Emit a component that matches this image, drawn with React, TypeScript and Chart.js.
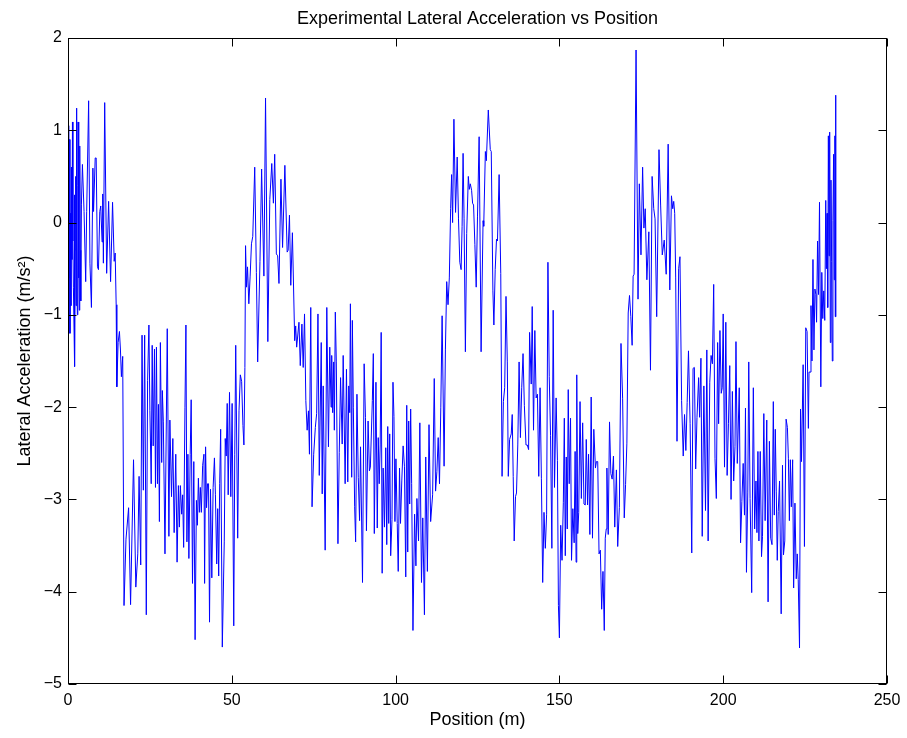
import React, { useEffect, useRef } from 'react';
import { Chart, registerables } from 'chart.js';

Chart.register(...registerables);

// ---- data (position in m, lateral acceleration in m/s^2) ----
const posA = [0.0,0.15,0.3,0.45,0.6,0.75,0.9,1.05,1.2,1.36,1.5,1.65,1.87,1.95,2.07,2.2,2.35,2.45,2.58,2.7,2.85,3.0,3.08,3.2,3.35,3.45,3.59,3.75,3.9,4.1,4.4,4.9,5.4,5.7,6.3,6.7,7.15,7.6,7.8,8.3,8.6,9.0,9.3,9.7,10.0,10.4,10.6,10.8,11.2,11.8,12.4,13.0,13.6,14.1,14.4,14.7,14.9,15.3,15.7,16.0,16.3,16.7,17.1,17.7,18.5,19.1,20.0,20.7,21.3,21.7,22.2,22.6,23.0,23.4,23.9,24.3,24.7,25.0,25.4,25.7,26.0,26.4,26.7,27.0,27.3,27.6,27.9,28.2,28.6,28.8,29.1,29.6,30.3];
const accA = [-0.35,1.05,-0.6,0.9,-1.2,0.1,-0.9,0.6,-0.4,1.09,-0.2,-0.7,-1.22,0.3,-1.56,-0.3,0.5,-0.9,1.24,-0.2,-1.0,0.4,1.09,-0.6,-0.2,-0.95,0.83,-0.3,-0.85,0.2,0.63,0.12,-0.64,0.12,1.32,-0.44,-0.92,0.59,0.12,0.7,0.7,-0.48,-0.51,0.12,0.18,-0.21,0.31,-0.44,1.3,-0.55,0.23,-0.64,0.22,-0.42,-0.33,-0.89,-1.78,-1.3,-1.18,-1.37,-1.67,-1.45,-4.15,-3.43,-3.09,-4.14,-2.57,-3.95,-3.59,-2.75,-3.71,-1.22,-2.9,-1.22,-4.25,-1.71,-1.11,-2.04,-2.83,-1.33,-2.42,-1.37,-2.87,-1.35,-2.83,-1.97,-3.24,-1.3,-2.6,-1.82,-2.16,-3.59,-1.15];

const posB = [30.8,31.1,31.6,32.0,32.4,32.9,33.3,33.7,34.0,34.3,34.7,35.0,35.3,35.7,36.0,36.3,36.6,36.9,37.3,37.6,38.0,38.4,38.8,39.2,39.5,39.8,40.1,40.4,40.7,41.1,41.5,41.7,42.0,42.3,42.6,42.9,43.2,43.5,43.9,44.3,44.7,45.0,45.4,45.7,46.0,46.3,46.6,47.1,47.7,48.0,48.3,48.6,48.9,49.3,49.7,50.1,50.6,50.9,51.2,51.8,52.2,52.6,53.0,53.4,53.7,54.0,54.2,54.5,54.8,55.2,55.6,56.0,56.4,57.0,57.5,57.9,58.6,59.1,59.8,60.3,61.0,61.6,62.2,62.7];
const accB = [-3.4,-2.14,-2.97,-2.34,-3.36,-2.51,-3.68,-2.85,-3.3,-2.85,-3.16,-2.95,-3.52,-2.0,-1.11,-3.46,-2.51,-3.64,-2.51,-1.92,-3.91,-2.59,-4.52,-3.01,-3.28,-2.77,-3.14,-2.87,-3.14,-2.63,-2.51,-3.91,-2.43,-3.09,-2.83,-2.83,-4.33,-2.89,-3.85,-2.87,-2.55,-2.95,-3.7,-3.1,-3.83,-2.83,-2.24,-4.6,-3.46,-2.34,-2.53,-1.96,-2.95,-1.84,-2.97,-1.96,-4.37,-2.51,-1.33,-3.42,-2.04,-1.65,-1.72,-2.2,-2.41,-1.57,-0.25,-0.7,-0.48,-0.88,-0.58,-0.23,-0.15,0.6,-0.54,-1.51,-0.42,0.58,-0.58,1.35,-1.29,0.25,0.64,0.21];

const posC = [63.1,63.6,64.0,64.4,65.0,65.5,66.2,66.9,67.2,67.6,68.0,68.5,69.2,69.5,69.8,70.5,70.9,71.4,71.8,72.2,72.6,73.0,73.4,73.7,74.1,74.5,75.0,75.5,75.9,76.3,76.7,77.3,77.6,77.9,78.5,79.0,79.5,79.9,80.3,80.5,80.8,81.1,81.3,81.6,81.9,82.4,82.8,83.2,83.7,84.0,84.6,85.0,85.4,85.7,86.0,86.2,86.6,86.8,87.1,87.5,87.8,88.2,88.6,89.0,89.3,89.9,90.4,90.8,91.1,91.6,92.0,92.3,92.9,93.2,93.5,94.0,94.4];
const accC = [0.74,-0.34,-0.36,-0.66,0.47,-0.27,0.62,-0.32,-0.3,0.08,-0.68,-0.11,-1.28,-1.12,-1.35,-1.08,-1.55,-1.1,-1.57,-0.99,-1.93,-2.25,-2.04,-2.51,-0.92,-3.08,-2.51,-2.22,-2.07,-0.99,-2.74,-1.3,-2.94,-1.77,-3.55,-0.92,-2.43,-1.35,-2.0,-1.44,-2.06,-1.51,-2.25,-0.97,-1.51,-3.48,-2.49,-1.68,-2.4,-1.44,-2.83,-1.59,-2.81,-1.77,-2.06,-0.88,-2.76,-1.06,-2.0,-3.08,-3.46,-1.86,-2.76,-3.23,-2.43,-3.9,-1.53,-2.11,-3.34,-2.15,-2.69,-2.65,-1.93,-1.42,-3.37,-1.73,-3.31];

const posD = [94.7,95.0,95.3,95.6,95.9,96.2,96.6,97.0,97.3,97.6,97.9,98.2,98.5,98.9,99.2,99.5,99.8,100.1,100.5,100.8,101.2,101.5,101.9,102.3,102.7,103.1,103.4,103.7,104.0,104.3,104.6,104.9,105.3,105.8,106.2,106.5,107.0,107.4,107.9,108.3,108.8,109.2,109.7,110.2,110.7,111.3,111.8,112.2,112.6,113.0,113.4,113.8,114.2,114.8,115.2,115.6,116.0,116.4,116.8,117.1,117.4,117.8,118.3,118.8,119.2,119.6,120.0,120.3,120.6,120.9,121.3,121.7,122.2,122.5,122.8,123.2,123.5,123.8,124.2,124.6,125.0,125.5,126.1,126.7];
const accD = [-2.33,-2.83,-2.41,-1.19,-3.8,-2.66,-3.3,-2.44,-3.49,-2.21,-3.26,-2.29,-3.61,-3.22,-1.73,-2.1,-3.24,-2.56,-3.26,-3.78,-2.66,-3.26,-2.79,-2.42,-2.64,-3.84,-1.98,-3.57,-2.15,-3.05,-2.02,-2.83,-4.42,-3.16,-3.72,-2.99,-3.45,-2.17,-3.9,-3.2,-4.25,-2.54,-3.78,-2.19,-3.24,-2.95,-1.69,-2.91,-2.7,-2.33,-2.83,-2.0,-1.01,-2.64,-1.38,-0.64,-0.89,-0.6,0.15,0.52,0.0,1.12,0.11,0.71,0.04,-0.43,-0.51,-0.04,0.75,0.04,-1.4,-0.12,0.5,0.36,0.42,0.35,0.21,0.19,-0.24,-0.7,0.07,0.93,-1.4,0.02];

const posE = [126.9,127.4,127.7,128.3,128.9,129.2,129.7,130.0,130.4,130.8,131.1,131.6,132.1,132.5,132.9,133.3,133.7,134.1,134.4,134.8,135.3,135.6,135.9,136.2,136.6,136.9,137.3,137.7,138.1,138.5,138.9,139.3,139.8,140.2,140.6,140.9,141.4,141.7,142.1,142.5,142.9,143.3,143.7,144.1,144.5,144.9,145.3,145.7,146.1,146.5,146.9,147.3,147.7,148.1,148.5,149.0,149.4,149.7,150.0,150.4,150.8,151.2,151.5,151.8,152.1,152.4,152.7,153.0,153.4,153.7,154.1,154.5,154.8,155.1,155.3,155.6,155.9,156.3,156.7,157.1,157.5,157.9,158.2,158.6];
const accE = [-0.04,0.77,0.67,1.22,0.79,0.77,-0.74,-1.11,-0.51,-0.18,-0.2,0.52,-0.55,-2.75,-1.94,-1.79,-0.8,-1.51,-2.75,-2.35,-2.29,-2.08,-2.75,-3.45,-2.97,-2.93,-2.41,-1.51,-2.33,-1.79,-1.42,-1.98,-2.41,-2.41,-2.46,-1.19,-1.75,-0.91,-2.25,-1.17,-1.9,-1.86,-2.75,-1.79,-2.77,-3.9,-3.14,-3.53,-3.16,-0.43,-1.67,-2.31,-3.53,-0.95,-2.87,-1.9,-2.58,-4.15,-4.5,-3.28,-3.66,-3.03,-2.12,-3.61,-2.54,-3.32,-1.81,-2.83,-2.12,-3.66,-3.1,-3.47,-2.48,-3.68,-1.65,-3.37,-3.14,-1.94,-2.99,-2.17,-3.05,-3.06,-2.35,-3.06];

const posF = [158.9,159.3,159.7,160.1,160.5,161.0,161.3,161.7,162.1,162.5,162.9,163.3,163.7,164.0,164.3,164.5,164.9,165.3,165.7,166.1,166.5,166.9,167.4,167.8,168.3,168.8,169.3,169.8,170.2,170.6,171.0,171.4,171.8,172.2,172.5,172.8,173.4,174.0,174.4,174.9,175.4,175.8,176.2,176.7,177.3,177.8,178.3,178.8,179.2,179.7,180.4,180.9,181.4,182.0,182.6,183.2,183.7,184.2,184.6,184.9,185.2,185.5,185.9,186.4,186.8,187.3,187.8,188.2,188.6,189.0,189.4,189.9];
const accF = [-2.51,-3.38,-1.89,-3.42,-2.24,-2.66,-2.59,-2.59,-3.59,-3.55,-4.19,-3.78,-4.42,-3.42,-3.32,-2.66,-3.38,-2.16,-2.72,-2.78,-2.53,-3.3,-2.68,-3.51,-3.09,-1.31,-1.91,-3.2,-2.84,-2.39,-0.98,-0.79,-1.02,-1.33,-0.58,-0.56,1.87,-0.83,0.42,-0.35,0.6,-0.06,0.15,-0.62,-0.1,-1.6,0.5,0.15,0.04,-1.02,0.79,0.19,-0.35,-0.19,-0.56,0.85,-0.73,0.29,0.15,0.23,0.1,-0.6,-2.37,-0.5,-0.37,-1.93,-2.53,-2.08,-2.47,-1.95,-1.39,-2.18];

const posG = [190.4,190.8,191.2,191.6,192.0,192.5,192.8,193.2,193.6,194.1,194.6,195.0,195.4,195.9,196.3,196.7,197.1,197.5,197.9,198.3,198.6,199.0,199.4,199.7,200.0,200.4,200.8,201.2,201.6,202.0,202.4,202.8,203.2,203.6,203.9,204.3,204.9,205.3,205.7,206.1,206.5,206.8,207.1,207.5,207.8,208.2,208.7,209.2,209.6,210.0,210.3,210.6,210.9,211.3,211.7,212.0,212.4,212.8,213.3,213.7,214.1,214.5,214.9,215.3,215.6,215.9,216.2,216.5,216.8,217.2,217.7,218.1,218.4,218.8,219.2,219.6,219.9,220.2,220.5,220.8,221.2,221.5,221.9,222.3];
const accG = [-3.58,-1.58,-1.57,-2.67,-2.11,-1.68,-2.11,-1.47,-3.4,-1.77,-3.12,-1.38,-3.45,-1.73,-1.44,-1.53,-0.67,-2.56,-2.99,-1.3,-2.18,-1.17,-1.85,-1.79,-0.99,-2.65,-1.08,-2.74,-2.18,-1.55,-3.0,-1.83,-2.8,-2.43,-1.29,-2.61,-1.79,-3.47,-3.02,-2.61,-3.17,-2.01,-3.79,-2.93,-1.51,-2.99,-4.01,-1.79,-3.32,-2.8,-3.36,-2.48,-3.45,-2.48,-3.62,-3.4,-2.07,-3.23,-2.14,-4.11,-2.37,-3.42,-3.49,-1.94,-3.17,-2.24,-2.91,-3.66,-3.13,-2.8,-4.24,-2.63,-3.6,-3.45,-2.13,-2.22,-2.56,-3.23,-2.57,-3.08,-2.57,-3.96,-3.04,-3.86];

const posH = [222.6,222.9,223.3,223.6,223.9,224.4,224.8,225.2,225.6,226.0,226.2,226.5,226.8,227.1,227.4,227.7,228.0,228.3,228.5,228.8,229.1,229.4,229.8,230.1,230.4,230.7,231.0,231.3,231.5,231.7,231.9,232.1,232.3,232.5,232.7,232.9,233.1,233.3,233.5,233.7,233.9,234.1,234.2,234.3,234.4];
const accH = [-3.59,-3.87,-4.61,-2.02,-2.59,-1.54,-3.51,-1.14,-1.18,-2.23,-1.62,-1.62,-0.9,-1.5,-0.4,-1.38,-0.72,-0.78,-1.08,-0.2,-0.78,0.22,-1.78,-0.54,-1.04,-0.74,-1.06,0.24,-0.5,0.1,-0.92,0.94,-0.36,0.98,-1.3,0.46,-0.42,-1.5,0.02,0.74,-0.62,0.94,-1.02,1.38,-1.02];

const positions = [...posA, ...posB, ...posC, ...posD, ...posE, ...posF, ...posG, ...posH];
const accels = [...accA, ...accB, ...accC, ...accD, ...accE, ...accF, ...accG, ...accH];

const xTickValues = [0, 50, 100, 150, 200, 250];
const yTickValues = [-5, -4, -3, -2, -1, 0, 1, 2];

const TITLE = 'Experimental Lateral Acceleration vs Position';
const X_TITLE = 'Position (m)';
const Y_TITLE = 'Lateral Acceleration (m/s\u00B2)';

const FONT = '"Liberation Sans", Arial, Helvetica, sans-serif';

const framePlugin = {
  id: 'matlabFrame',
  afterDatasetsDraw(chart: any) {
    const { ctx, chartArea: a, scales } = chart;
    ctx.save();
    ctx.strokeStyle = '#000';
    ctx.lineWidth = 1;
    const L = Math.round(a.left) + 0.5;
    const R = Math.round(a.right) - 0.5;
    const T = Math.round(a.top) + 0.5;
    const B = Math.round(a.bottom) - 0.5;
    ctx.strokeRect(L, T, R - L, B - T);
    const len = 8;
    ctx.beginPath();
    scales.x.ticks.forEach((t: any) => {
      const x = Math.round(scales.x.getPixelForValue(t.value)) + 0.5;
      ctx.moveTo(x, B); ctx.lineTo(x, B - len);
      ctx.moveTo(x, T); ctx.lineTo(x, T + len);
    });
    scales.y.ticks.forEach((t: any) => {
      const y = Math.round(scales.y.getPixelForValue(t.value)) + 0.5;
      ctx.moveTo(L, y); ctx.lineTo(L + len, y);
      ctx.moveTo(R, y); ctx.lineTo(R - len, y);
    });
    ctx.stroke();
    ctx.restore();
  },
};

export default function App() {
  const canvasRef = useRef<HTMLCanvasElement | null>(null);

  useEffect(() => {
    if (!canvasRef.current) return;
    const data = positions.map((p, i) => ({ x: p, y: accels[i] }));
    const chart = new Chart(canvasRef.current, {
      type: 'line',
      data: {
        datasets: [
          {
            data,
            borderColor: '#0000ff',
            borderWidth: 1,
            pointRadius: 0,
            fill: false,
            tension: 0,
          },
        ],
      },
      options: {
        animation: false,
        responsive: false,
        devicePixelRatio: 1,
        events: [],
        layout: { padding: { left: 0, right: 20, top: 0, bottom: 0 } },
        plugins: {
          legend: { display: false },
          tooltip: { enabled: false },
          title: {
            display: true,
            fullSize: false,
            text: TITLE,
            color: '#000',
            font: { family: FONT, size: 18, weight: 'normal' },
            padding: { top: 8.5, bottom: 7.9 },
          },
        },
        scales: {
          x: {
            type: 'linear',
            min: 0,
            max: 250,
            afterBuildTicks: (s: any) => {
              s.ticks = xTickValues.map((v) => ({ value: v }));
            },
            ticks: {
              color: '#000',
              font: { family: FONT, size: 16 },
              padding: 7,
              maxRotation: 0,
              autoSkip: false,
            },
            grid: { display: false, drawTicks: false },
            border: { display: false },
            title: {
              display: true,
              text: X_TITLE,
              color: '#000',
              font: { family: FONT, size: 18 },
              padding: { top: 0, bottom: 7 },
            },
            afterFit: (s: any) => {
              s.height = 54;
              s.paddingLeft = 0;
              s.paddingRight = 0;
            },
          },
          y: {
            type: 'linear',
            min: -5,
            max: 2,
            afterBuildTicks: (s: any) => {
              s.ticks = yTickValues.map((v) => ({ value: v }));
            },
            ticks: {
              color: '#000',
              font: { family: FONT, size: 16 },
              padding: 6,
              autoSkip: false,
              callback: (v: any) => (Number(v) < 0 ? '\u2212' + Math.abs(Number(v)) : String(v)),
            },
            grid: { display: false, drawTicks: false },
            border: { display: false },
            title: {
              display: true,
              text: Y_TITLE,
              color: '#000',
              font: { family: FONT, size: 18 },
              padding: { top: 14, bottom: 0 },
            },
            afterFit: (s: any) => {
              s.width = 68;
              s.paddingTop = 0;
              s.paddingBottom = 0;
            },
          },
        },
      },
      plugins: [framePlugin],
    });
    return () => chart.destroy();
  }, []);

  return (
    <div style={{ position: 'absolute', left: 0, top: 0, width: 907, height: 738, background: '#fff' }}>
      <canvas ref={canvasRef} width={907} height={738} style={{ width: 907, height: 738, display: 'block' }} />
    </div>
  );
}
